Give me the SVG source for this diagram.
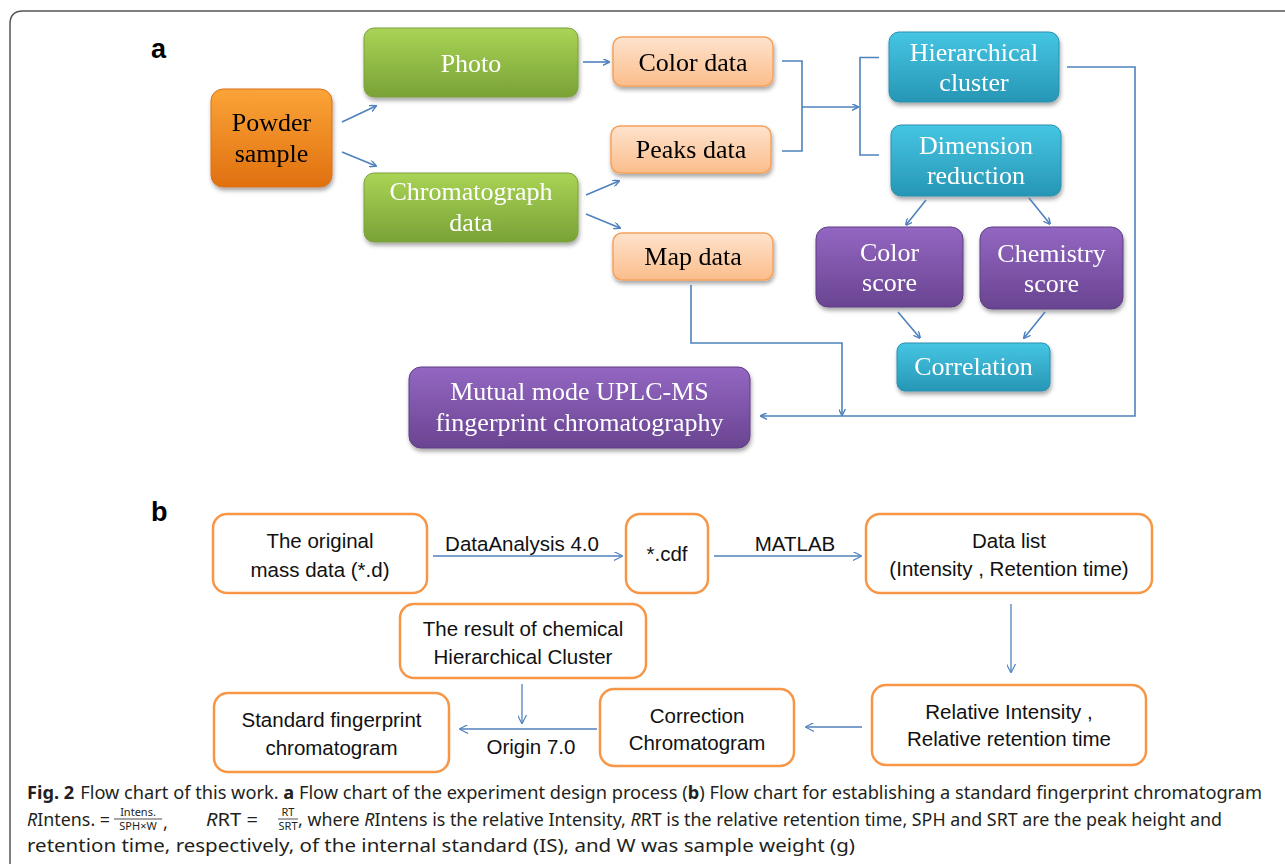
<svg xmlns="http://www.w3.org/2000/svg" width="1285" height="864" viewBox="0 0 1285 864">
<defs>
  <linearGradient id="gOrange" x1="0" y1="0" x2="0" y2="1">
    <stop offset="0" stop-color="#fba438"/><stop offset="1" stop-color="#e0700f"/>
  </linearGradient>
  <linearGradient id="gGreen" x1="0" y1="0" x2="0" y2="1">
    <stop offset="0" stop-color="#a9d455"/><stop offset="1" stop-color="#79a236"/>
  </linearGradient>
  <linearGradient id="gPeach" x1="0" y1="0" x2="0" y2="1">
    <stop offset="0" stop-color="#fee3cd"/><stop offset="1" stop-color="#fbbd8b"/>
  </linearGradient>
  <linearGradient id="gCyan" x1="0" y1="0" x2="0" y2="1">
    <stop offset="0" stop-color="#45c6e3"/><stop offset="1" stop-color="#2796b5"/>
  </linearGradient>
  <linearGradient id="gPurple" x1="0" y1="0" x2="0" y2="1">
    <stop offset="0" stop-color="#9367c2"/><stop offset="1" stop-color="#6a4491"/>
  </linearGradient>
  <filter id="shadow" x="-10%" y="-15%" width="125%" height="140%">
    <feDropShadow dx="1" dy="3" stdDeviation="2" flood-color="#000" flood-opacity="0.35"/>
  </filter>
  <marker id="arrA" viewBox="0 0 10 10" refX="9" refY="5" markerWidth="7" markerHeight="7" markerUnits="userSpaceOnUse" orient="auto">
    <path d="M0,0 L10,5 L0,10" fill="none" stroke="#4f81bd" stroke-width="2"/>
  </marker>
  <marker id="arrB" viewBox="0 0 10 10" refX="9" refY="5" markerWidth="9" markerHeight="9" markerUnits="userSpaceOnUse" orient="auto">
    <path d="M0,0 L10,5 L0,10" fill="none" stroke="#4f81bd" stroke-width="1.3"/>
  </marker>
</defs>
<style>
  .frame { fill: none; stroke: #555; stroke-width: 1.5; }
  .lab { font-family: "Liberation Sans", Arial, sans-serif; font-weight: bold; font-size: 27px; fill: #000; }
  .na { filter: url(#shadow); }
  .orange { fill: url(#gOrange); stroke: #d9701c; stroke-width: 1; }
  .green { fill: url(#gGreen); stroke: #7c9f3c; stroke-width: 1; }
  .peach { fill: url(#gPeach); stroke: #f5a25e; stroke-width: 1.5; }
  .cyan { fill: url(#gCyan); stroke: #2b8fae; stroke-width: 1; }
  .purple { fill: url(#gPurple); stroke: #5e3e83; stroke-width: 1; }
  .ta { font-family: "Liberation Serif", "Times New Roman", serif; font-size: 26px; text-anchor: middle; }
  .tw { fill: #fff; }
  .tk { fill: #000; }
  .nb { fill: #fff; stroke: #f79646; stroke-width: 2.5; }
  .tb { font-family: "Liberation Sans", Arial, sans-serif; font-size: 20.5px; fill: #111; text-anchor: middle; }
  .ca { fill: none; stroke: #4f81bd; stroke-width: 1.6; }
  .cb { fill: none; stroke: #4f81bd; stroke-width: 1.3; }
  .cap { font-family: "Noto Sans", "Open Sans", sans-serif; font-size: 18px; fill: #231f20; }
  .capsm { font-family: "Noto Sans", "Open Sans", sans-serif; font-size: 11px; fill: #231f20; text-anchor: middle; }
</style>

<path class="frame" d="M10,864 V24 Q10,11 23,11 H1285"/>

<text class="lab" x="151" y="58">a</text>
<text class="lab" x="151" y="521">b</text>

<!-- Part a nodes -->
<g id="powder" class="na">
  <rect class="orange" x="211" y="89" width="121" height="98" rx="12"/>
  <text class="ta tk" x="271.5" y="131">Powder</text>
  <text class="ta tk" x="271.5" y="162">sample</text>
</g>
<g id="photo" class="na">
  <rect class="green" x="364" y="28" width="214" height="69" rx="10"/>
  <text class="ta tw" x="471" y="72">Photo</text>
</g>
<g id="chromatograph" class="na">
  <rect class="green" x="364" y="173" width="214" height="69" rx="10"/>
  <text class="ta tw" x="471" y="200">Chromatograph</text>
  <text class="ta tw" x="471" y="231">data</text>
</g>
<g id="colordata" class="na">
  <rect class="peach" x="613" y="37" width="160" height="49" rx="9"/>
  <text class="ta tk" x="693" y="71">Color data</text>
</g>
<g id="peaksdata" class="na">
  <rect class="peach" x="611" y="126" width="160" height="47" rx="9"/>
  <text class="ta tk" x="691" y="158">Peaks data</text>
</g>
<g id="mapdata" class="na">
  <rect class="peach" x="613" y="233" width="160" height="47" rx="9"/>
  <text class="ta tk" x="693" y="265">Map data</text>
</g>
<g id="hierarchical" class="na">
  <rect class="cyan" x="889" y="32" width="170" height="70" rx="10"/>
  <text class="ta tw" x="974" y="61">Hierarchical</text>
  <text class="ta tw" x="974" y="91">cluster</text>
</g>
<g id="dimension" class="na">
  <rect class="cyan" x="891" y="125" width="170" height="71" rx="10"/>
  <text class="ta tw" x="976" y="154">Dimension</text>
  <text class="ta tw" x="976" y="184">reduction</text>
</g>
<g id="colorscore" class="na">
  <rect class="purple" x="816" y="227" width="147" height="80" rx="12"/>
  <text class="ta tw" x="889.5" y="261">Color</text>
  <text class="ta tw" x="889.5" y="291">score</text>
</g>
<g id="chemscore" class="na">
  <rect class="purple" x="980" y="227" width="143" height="82" rx="12"/>
  <text class="ta tw" x="1051.5" y="262">Chemistry</text>
  <text class="ta tw" x="1051.5" y="292">score</text>
</g>
<g id="correlation" class="na">
  <rect class="cyan" x="897" y="343" width="153" height="48" rx="8"/>
  <text class="ta tw" x="973.5" y="375">Correlation</text>
</g>
<g id="mutual" class="na">
  <rect class="purple" x="409" y="367" width="341" height="81" rx="12"/>
  <text class="ta tw" x="579.5" y="400">Mutual mode UPLC-MS</text>
  <text class="ta tw" x="579.5" y="431">fingerprint chromatography</text>
</g>

<!-- Part b nodes -->
<g id="original">
  <rect class="nb" x="213" y="514" width="214" height="79" rx="14"/>
  <text class="tb" x="320" y="548">The original</text>
  <text class="tb" x="320" y="577">mass data (*.d)</text>
</g>
<g id="cdf">
  <rect class="nb" x="626" y="514" width="82" height="79" rx="14"/>
  <text class="tb" x="667" y="561">*.cdf</text>
</g>
<g id="datalist">
  <rect class="nb" x="866" y="514" width="286" height="79" rx="14"/>
  <text class="tb" x="1009" y="548">Data list</text>
  <text class="tb" x="1009" y="576">(Intensity , Retention time)</text>
</g>
<g id="result">
  <rect class="nb" x="400" y="604" width="246" height="74" rx="14"/>
  <text class="tb" x="523" y="636">The result of chemical</text>
  <text class="tb" x="523" y="664">Hierarchical Cluster</text>
</g>
<g id="standard">
  <rect class="nb" x="214" y="693" width="235" height="79" rx="14"/>
  <text class="tb" x="331.5" y="727">Standard fingerprint</text>
  <text class="tb" x="331.5" y="755">chromatogram</text>
</g>
<g id="correction">
  <rect class="nb" x="600" y="689" width="194" height="77" rx="14"/>
  <text class="tb" x="697" y="723">Correction</text>
  <text class="tb" x="697" y="750">Chromatogram</text>
</g>
<g id="relative">
  <rect class="nb" x="872" y="685" width="274" height="80" rx="14"/>
  <text class="tb" x="1009" y="719">Relative Intensity ,</text>
  <text class="tb" x="1009" y="746">Relative retention time</text>
</g>

<!-- Connectors -->
<g id="connectors">
  <line class="ca" x1="342" y1="122" x2="376" y2="106" marker-end="url(#arrA)"/>
  <line class="ca" x1="342" y1="152" x2="376" y2="166" marker-end="url(#arrA)"/>
  <line class="ca" x1="583" y1="62" x2="609" y2="62" marker-end="url(#arrA)"/>
  <line class="ca" x1="586" y1="195" x2="619" y2="181" marker-end="url(#arrA)"/>
  <line class="ca" x1="586" y1="214" x2="620" y2="228" marker-end="url(#arrA)"/>
  <path class="ca" d="M782,61 H802 V151 H782"/>
  <line class="ca" x1="802" y1="107" x2="858" y2="107" marker-end="url(#arrA)"/>
  <path class="ca" d="M879,57.5 H860 V155 H879"/>
  <path class="ca" d="M1067,67 H1135 V416 H761" marker-end="url(#arrA)"/>
  <path class="ca" d="M691,285 V343 H842 V415" marker-end="url(#arrA)"/>
  <line class="ca" x1="926" y1="200" x2="906" y2="225" marker-end="url(#arrA)"/>
  <line class="ca" x1="1029" y1="198" x2="1050" y2="224" marker-end="url(#arrA)"/>
  <line class="ca" x1="898" y1="312" x2="920" y2="338" marker-end="url(#arrA)"/>
  <line class="ca" x1="1045" y1="312" x2="1024" y2="338" marker-end="url(#arrA)"/>

  <line class="cb" x1="433" y1="556" x2="622" y2="556" marker-end="url(#arrB)"/>
  <line class="cb" x1="714" y1="556" x2="861" y2="556" marker-end="url(#arrB)"/>
  <line class="cb" x1="1011" y1="604" x2="1011" y2="672" marker-end="url(#arrB)"/>
  <line class="cb" x1="862" y1="727" x2="806" y2="727" marker-end="url(#arrB)"/>
  <line class="cb" x1="597" y1="729" x2="460" y2="729" marker-end="url(#arrB)"/>
  <line class="cb" x1="522" y1="684" x2="522" y2="723" marker-end="url(#arrB)"/>
  <text class="tb" x="522" y="551">DataAnalysis 4.0</text>
  <text class="tb" x="795" y="551">MATLAB</text>
  <text class="tb" x="531" y="754">Origin 7.0</text>
</g>

<!-- Caption -->
<g id="caption">
  <text class="cap" x="27" y="799" textLength="1235" lengthAdjust="spacingAndGlyphs"><tspan font-weight="bold">Fig. 2</tspan><tspan dx="6">Flow chart of this work. </tspan><tspan font-weight="bold">a</tspan> Flow chart of the experiment design process (<tspan font-weight="bold">b</tspan>) Flow chart for establishing a standard fingerprint chromatogram</text>
  <text class="cap" x="27" y="826" textLength="83" lengthAdjust="spacingAndGlyphs"><tspan font-style="italic">R</tspan>Intens. =</text>
  <text class="capsm" x="138" y="816">Intens.</text>
  <line x1="114" y1="819" x2="162" y2="819" stroke="#231f20" stroke-width="0.8"/>
  <text class="capsm" x="138" y="830">SPH×W</text>
  <text class="cap" x="163" y="829" font-size="13">,</text>
  <text class="cap" x="206" y="826" textLength="52" lengthAdjust="spacingAndGlyphs"><tspan font-style="italic">R</tspan>RT  =</text>
  <text class="capsm" x="288" y="816">RT</text>
  <line x1="278" y1="819" x2="298" y2="819" stroke="#231f20" stroke-width="0.8"/>
  <text class="capsm" x="288" y="830">SRT</text>
  <text class="cap" x="298" y="826" textLength="924" lengthAdjust="spacingAndGlyphs">, where <tspan font-style="italic">R</tspan>Intens is the relative Intensity, <tspan font-style="italic">R</tspan>RT is the relative retention time, SPH and SRT are the peak height and</text>
  <text class="cap" x="27" y="852" textLength="828" lengthAdjust="spacingAndGlyphs">retention time, respectively, of the internal standard (IS), and W was sample weight (g)</text>
</g>
</svg>
